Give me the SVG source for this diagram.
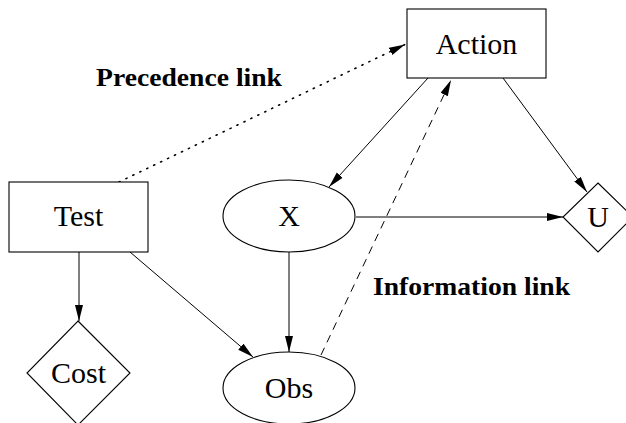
<svg xmlns="http://www.w3.org/2000/svg" width="626" height="423" viewBox="0 0 626 423">
<style>
.node{fill:#fff;stroke:#000;stroke-width:1.1}
.lbl{font-family:'Liberation Serif','DejaVu Serif',serif;font-size:30px;fill:#000;text-anchor:middle}
.note{font-family:'Liberation Serif','DejaVu Serif',serif;font-size:26px;font-weight:bold;fill:#000}
.edge{fill:none;stroke:#000;stroke-width:1}
.dot{stroke-dasharray:1.2 6.5;stroke-linecap:round;stroke-width:1.6}
.dash{stroke-dasharray:8 6}
</style>
<defs>
<marker id="ah" markerUnits="userSpaceOnUse" markerWidth="18" markerHeight="10" refX="16" refY="4" orient="auto">
<path d="M0,0 L16,4 L0,8 z" fill="#000"/>
</marker>
</defs>
<rect width="626" height="423" fill="#fff"/>
<g id="connectors">
<line class="edge dot" x1="119" y1="182" x2="405" y2="44.5" marker-end="url(#ah)"/>
<line class="edge" x1="428" y1="78" x2="329" y2="187" marker-end="url(#ah)"/>
<line class="edge" x1="503" y1="78" x2="587" y2="192" marker-end="url(#ah)"/>
<line class="edge" x1="356" y1="217" x2="563" y2="217" marker-end="url(#ah)"/>
<line class="edge" x1="289" y1="252" x2="289" y2="352" marker-end="url(#ah)"/>
<line class="edge" x1="130" y1="252" x2="253" y2="357" marker-end="url(#ah)"/>
<line class="edge" x1="79" y1="252" x2="79" y2="321" marker-end="url(#ah)"/>
<line class="edge dash" x1="321" y1="355" x2="451" y2="80" marker-end="url(#ah)"/>
</g>
<g id="action">
<rect class="node" x="407" y="9" width="139" height="69"/>
<text class="lbl" x="476.5" y="54">Action</text>
</g>
<g id="test">
<rect class="node" x="9" y="182" width="139" height="70"/>
<text class="lbl" x="78.5" y="226">Test</text>
</g>
<g id="x">
<ellipse class="node" cx="289" cy="216" rx="66" ry="36"/>
<text class="lbl" x="289" y="226">X</text>
</g>
<g id="u">
<polygon class="node" points="598,183 633,217 598,252 563,217"/>
<text class="lbl" x="598" y="227">U</text>
</g>
<g id="obs">
<ellipse class="node" cx="289" cy="388" rx="66" ry="36"/>
<text class="lbl" x="289" y="398">Obs</text>
</g>
<g id="cost">
<polygon class="node" points="78,321 130,373 78,425 27,373"/>
<text class="lbl" x="78.5" y="383">Cost</text>
</g>
<text class="note" x="96" y="86" textLength="186" lengthAdjust="spacingAndGlyphs">Precedence link</text>
<text class="note" x="373" y="295" textLength="197" lengthAdjust="spacingAndGlyphs">Information link</text>
</svg>
